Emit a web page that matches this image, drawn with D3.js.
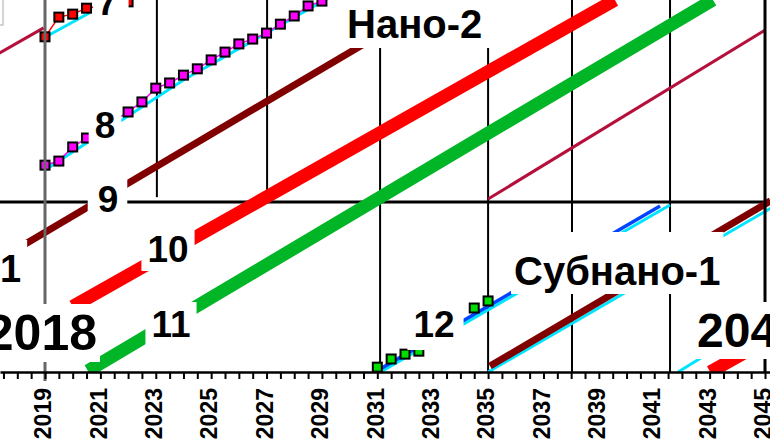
<!DOCTYPE html>
<html lang="ru">
<head>
<meta charset="UTF-8">
<title>Roadmap</title>
<style>
  body { margin: 0; background: #fff; }
  svg { display: block; font-family: "Liberation Sans", Arial, sans-serif; }
</style>
</head>
<body>
<svg id="chart"></svg>
<script src="https://d3js.org/d3.v7.min.js"></script>
<script>
// node "7" (red squares) and its cyan trend
var node7Years = [2019, 2019.5, 2020, 2020.5, 2022];
var node7Vals = [90.1, 95.4, 96.2, 97.8, 99.5];
var node7TrendYears = [2019, 2020.6];
var node7TrendVals = [90, 96.5];

// node "8" (magenta squares)
var node8Years = [2019, 2019.5, 2020, 2020.5, 2022, 2022.5, 2023, 2023.5, 2024, 2024.5,
                  2025, 2025.5, 2026, 2026.5, 2027, 2027.5, 2028, 2028.5, 2029];
var node8Vals = [55.6, 56.7, 60.5, 62.9, 69.9, 72.6, 76.3, 77.7, 79.8, 81.5,
                 83.9, 86.0, 88.2, 89.5, 91.1, 93.5, 95.7, 98.4, 99.7];
var node8TrendYears = [2019, 2024, 2029.3];
var node8TrendVals = [54.3, 78.5, 100.8];

// node "12" (green squares) with blue trend
var node12Years = [2031, 2031.5, 2032, 2032.5, 2034.5, 2035];
var node12Vals = [1.3, 3.5, 4.8, 5.6, 17.2, 19.1];
var node12TrendYears = [2030.99, 2041.21];
var node12TrendVals = [0.3, 44.6];
var node12CyanYears = [2031, 2041.57];
var node12CyanVals = [-0.5, 44.9];

// plain lines
var node9Years = [2017.74, 2030.7];
var node9Vals = [32, 89];
var node10Years = [2020.0, 2039.58];
var node10Vals = [17.6, 100];
var node11Years = [2020.55, 2035, 2043.12];
var node11Vals = [0.3, 64.2, 100];
var sub1Years = [2035.07, 2045.2];
var sub1Vals = [1.6, 46];
var sub1CyanYears = [2035, 2045.2];
var sub1CyanVals = [0, 44];
var crimsonAYears = [2017.3, 2018.95];
var crimsonAVals = [85.5, 92.5];
var crimsonBYears = [2035, 2045];
var crimsonBVals = [46.5, 91.9];
var cyanEndYears = [2041.86, 2042.8];
var cyanEndVals = [0, 4.3];
var redEndYears = [2043.02, 2045.3];
var redEndVals = [0, 9.5];

// grid rules
var ruleYears = [2023.04, 2027.02, 2031.1, 2035, 2038.03, 2041.57];
var ruleFrom = [47, 47, 0, 0, 0, 0];
var ruleTo = [100, 100, 100, 100, 100, 100];
var boundaryLevel = 45.7;

// axis
var tickYears = d3.range(2017, 2045.01, 0.5);

// annotations
var noteTexts = ['7', '8', '9', '10', '11', '12', '1', '2018', '204', 'Нано-2', 'Субнано-1'];

var width = 770, height = 441, axisY = 372;
var svg = d3.select('#chart').attr('width', width).attr('height', height);

var x = d3.scaleLinear().domain([2017.375, 2045.18]).range([0, width]);
var y = d3.scaleLinear().domain([0, 100]).range([axisY, 0]);
var line = d3.line().x(d => x(d[0])).y(d => y(d[1]));
var pts = (yrs, vals) => yrs.map((t, i) => [t, vals[i]]);

svg.append('clipPath').attr('id', 'plot')
    .append('rect').attr('width', width).attr('height', axisY);
var plot = svg.append('g').attr('clip-path', 'url(#plot)');

// legend corner, top left
plot.append('rect').attr('x', -10).attr('y', -5).attr('width', 13).attr('height', 30)
    .attr('fill', '#fff').attr('stroke', '#aaa');

// vertical rules
ruleYears.forEach((t, i) => {
    plot.append('line')
        .attr('x1', x(t)).attr('x2', x(t))
        .attr('y1', y(ruleTo[i])).attr('y2', y(ruleFrom[i]))
        .attr('stroke', '#000').attr('stroke-width', 2);
});
plot.append('line')
    .attr('x1', 0).attr('x2', width)
    .attr('y1', y(boundaryLevel)).attr('y2', y(boundaryLevel))
    .attr('stroke', '#000').attr('stroke-width', 3);

var lines = [
    [crimsonAYears, crimsonAVals, '#b5103c', 3],
    [crimsonBYears, crimsonBVals, '#b5103c', 3],
    [node7TrendYears, node7TrendVals, '#00e5ff', 3],
    [node8TrendYears, node8TrendVals, '#00e5ff', 3],
    [node12CyanYears, node12CyanVals, '#00e5ff', 3],
    [node12TrendYears, node12TrendVals, '#0044ff', 3.5],
    [sub1CyanYears, sub1CyanVals, '#00e5ff', 3],
    [sub1Years, sub1Vals, '#800000', 7],
    [node9Years, node9Vals, '#800000', 7],
    [node10Years, node10Vals, '#ff0000', 13],
    [node11Years, node11Vals, '#00b526', 13],
    [cyanEndYears, cyanEndVals, '#00e5ff', 3],
    [redEndYears, redEndVals, '#ff0000', 13]
];
lines.forEach(l => {
    plot.append('path').attr('d', line(pts(l[0], l[1])))
        .attr('fill', 'none').attr('stroke', l[2]).attr('stroke-width', l[3]);
});

// thin joins between squares
plot.append('path').attr('d', line(pts(node7Years, node7Vals)))
    .attr('fill', 'none').attr('stroke', '#ff0000').attr('stroke-width', 1.5);
plot.append('path').attr('d', line(pts(node8Years, node8Vals)))
    .attr('fill', 'none').attr('stroke', '#ff00ff').attr('stroke-width', 1.5);

function squares(yrs, vals, fill) {
    plot.append('g').selectAll('rect').data(pts(yrs, vals)).enter().append('rect')
        .attr('x', d => x(d[0]) - 4.5).attr('y', d => y(d[1]) - 4.5)
        .attr('width', 9).attr('height', 9)
        .attr('fill', fill).attr('stroke', '#000').attr('stroke-width', 2);
}
squares(node7Years, node7Vals, '#ff0000');
squares(node8Years, node8Vals, '#ff00ff');
squares(node12Years, node12Vals, '#00dd00');

// 2019 marker and right frame
svg.append('line').attr('x1', x(2019)).attr('x2', x(2019)).attr('y1', 0).attr('y2', axisY + 9)
    .attr('stroke', '#666').attr('stroke-width', 3);
svg.append('line').attr('x1', x(2045)).attr('x2', x(2045)).attr('y1', 0).attr('y2', axisY)
    .attr('stroke', '#000').attr('stroke-width', 3);

// labels on white boxes: [x, baseline, size, anchor, pad l t r b]
var noteSpots = [
    [97, 15, 37, 'start', [4, 4, 11, 4]],
    [105, 138, 37, 'middle', [6, 2, 6, 2]],
    [108, 212, 37, 'middle', [10, 2, 9, 2]],
    [168, 262, 37, 'middle', [6, 2, 6, 1]],
    [171, 337, 37, 'middle', [6, 2, 6, 2]],
    [434, 337, 37, 'middle', [6, 2, 9, 5]],
    [0, 282, 38, 'start', [0, 8, 6, 2]],
    [97, 350, 50, 'end', [3, 1, 3, 1]],
    [697, 347, 48, 'start', [3, 2, 3, 2]],
    [347, 38, 40, 'start', [4, 4, 10, 2]],
    [514, 285, 40, 'start', [3, 17, 3, 1]]
];
noteTexts.forEach((s, i) => {
    var p = noteSpots[i];
    var g = svg.append('g');
    var t = g.append('text').text(s)
        .attr('x', p[0]).attr('y', p[1])
        .attr('font-size', p[2]).attr('font-weight', 'bold')
        .attr('text-anchor', p[3]).attr('fill', '#000');
    var bb = t.node().getBBox();
    g.insert('rect', 'text')
        .attr('x', bb.x - p[4][0]).attr('y', bb.y - p[4][1])
        .attr('width', bb.width + p[4][0] + p[4][2])
        .attr('height', bb.height + p[4][1] + p[4][3])
        .attr('fill', '#fff');
});

// x axis
var axis = d3.axisBottom(x).tickValues(tickYears).tickSize(7).tickSizeOuter(0)
    .tickFormat(d => (d % 2 === 1 ? d : ''));
var ax = svg.append('g').attr('transform', 'translate(0,' + axisY + ')').call(axis);
ax.select('.domain').attr('stroke', '#000').attr('stroke-width', 2.5);
ax.selectAll('.tick line').attr('stroke', '#000').attr('stroke-width', 2);
ax.selectAll('.tick text')
    .attr('transform', 'rotate(-90)')
    .attr('x', -16).attr('y', 0).attr('dy', '0.25em')
    .attr('text-anchor', 'end')
    .attr('font-size', 23).attr('font-weight', 'bold')
    .attr('font-family', '"Liberation Sans", Arial, sans-serif')
    .attr('fill', '#000');
</script>
</body>
</html>
